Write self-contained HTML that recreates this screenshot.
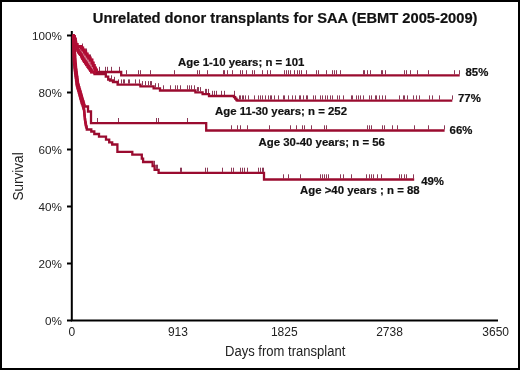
<!DOCTYPE html>
<html><head><meta charset="utf-8"><style>
html,body{margin:0;padding:0;background:#fff;}
body{width:520px;height:370px;overflow:hidden;}
svg{display:block;font-family:"Liberation Sans", sans-serif;will-change:transform;}
</style></head><body>
<svg width="520" height="370" viewBox="0 0 520 370">
<rect x="0" y="0" width="520" height="370" fill="#fff"/>
<rect x="1" y="1" width="518" height="368" fill="none" stroke="#000" stroke-width="2"/>
<text x="92.8" y="23.4" font-size="14.7" font-weight="bold" fill="#111" stroke="#111" stroke-width="0.2">Unrelated donor transplants for SAA (EBMT 2005-2009)</text>
<g fill="none" stroke="#000" stroke-width="2">
<path d="M71.8 31 V320.6 H498"/>
<text stroke="none" fill="#222" font-size="11.7" x="62" y="39.8" text-anchor="end">100%</text>
<path d="M67 35.5 H72"/>
<text stroke="none" fill="#222" font-size="11.7" x="62" y="96.8" text-anchor="end">80%</text>
<path d="M67 92.5 H72"/>
<text stroke="none" fill="#222" font-size="11.7" x="62" y="153.8" text-anchor="end">60%</text>
<path d="M67 149.5 H72"/>
<text stroke="none" fill="#222" font-size="11.7" x="62" y="210.8" text-anchor="end">40%</text>
<path d="M67 206.5 H72"/>
<text stroke="none" fill="#222" font-size="11.7" x="62" y="267.8" text-anchor="end">20%</text>
<path d="M67 263.5 H72"/>
<text stroke="none" fill="#222" font-size="11.7" x="62" y="324.8" text-anchor="end">0%</text>
<path d="M67 320.5 H72"/>

</g>
<g font-size="12" fill="#222">
<text x="71.8" y="336" text-anchor="middle">0</text>
<text x="177.9" y="336" text-anchor="middle">913</text>
<text x="284.3" y="336" text-anchor="middle">1825</text>
<text x="389.5" y="336" text-anchor="middle">2738</text>
<text x="495.7" y="336" text-anchor="middle">3650</text>

</g>
<g fill="none" stroke="#8a3856" stroke-width="1">
<path d="M82.5 43.5 v4 M86.5 48.5 v4 M90.5 54.5 v3.5 M99.5 66.8 v4.2 M105.5 66.8 v4.2 M107.5 66.8 v4.2 M111.5 66.8 v4.2 M119.5 66.8 v4.2 M126.5 70.2 v4.2 M138.5 70.2 v4.2 M140.5 70.2 v4.2 M150.5 70.2 v4.2 M174.5 70.2 v4.2 M197.5 70.2 v4.2 M199.5 70.2 v4.2 M207.5 70.2 v4.2 M223.5 70.2 v4.2 M224.5 70.2 v4.2 M227.5 70.2 v4.2 M232.5 70.2 v4.2 M240.5 70.2 v4.2 M242.5 70.2 v4.2 M246.5 70.2 v4.2 M252.5 70.2 v4.2 M254.5 70.2 v4.2 M262.5 70.2 v4.2 M267.5 70.2 v4.2 M270.5 70.2 v4.2 M284.5 70.2 v4.2 M286.5 70.2 v4.2 M288.5 70.2 v4.2 M290.5 70.2 v4.2 M294.5 70.2 v4.2 M297.5 70.2 v4.2 M299.5 70.2 v4.2 M301.5 70.2 v4.2 M306.5 70.2 v4.2 M316.5 70.2 v4.2 M318.5 70.2 v4.2 M326.5 70.2 v4.2 M332.5 70.2 v4.2 M334.5 70.2 v4.2 M336.5 70.2 v4.2 M340.5 70.2 v4.2 M363.5 70.2 v4.2 M364.5 70.2 v4.2 M367.5 70.2 v4.2 M370.5 70.2 v4.2 M381.5 70.2 v4.2 M382.5 70.2 v4.2 M385.5 70.2 v4.2 M404.5 70.2 v4.2 M406.5 70.2 v4.2 M410.5 70.2 v4.2 M417.5 70.2 v4.2 M428.5 70.2 v4.2 M454.5 70.2 v4.2 M459.5 70.2 v4.2 M111.5 75.3 v4.2 M114.5 76.8 v4.2 M118.5 79.4 v4.2 M121.5 79.4 v4.2 M123.5 79.4 v4.2 M124.5 79.4 v4.2 M128.5 79.4 v4.2 M129.5 79.4 v4.2 M135.5 79.4 v4.2 M139.5 79.4 v4.2 M142.5 81.1 v4.2 M145.5 81.1 v4.2 M148.5 81.1 v4.2 M150.5 81.1 v4.2 M151.5 81.1 v4.2 M155.5 83.2 v4.2 M158.5 83.2 v4.2 M163.5 85.3 v4.2 M170.5 85.3 v4.2 M175.5 85.3 v4.2 M177.5 85.3 v4.2 M180.5 85.3 v4.2 M187.5 85.3 v4.2 M189.5 85.3 v4.2 M191.5 85.3 v4.2 M194.5 85.3 v4.2 M197.5 87.1 v4.2 M198.5 87.1 v4.2 M200.5 87.1 v4.2 M205.5 88.9 v4.2 M206.5 88.9 v4.2 M208.5 88.9 v4.2 M212.5 90.8 v4.2 M214.5 90.8 v4.2 M216.5 90.8 v4.2 M221.5 90.8 v4.2 M224.5 90.8 v4.2 M234.5 90.8 v4.2 M239.5 95.4 v4.2 M240.5 95.4 v4.2 M242.5 95.4 v4.2 M243.5 95.4 v4.2 M245.5 95.4 v4.2 M248.5 95.4 v4.2 M254.5 95.4 v4.2 M258.5 95.4 v4.2 M260.5 95.4 v4.2 M262.5 95.4 v4.2 M265.5 95.4 v4.2 M268.5 95.4 v4.2 M270.5 95.4 v4.2 M271.5 95.4 v4.2 M274.5 95.4 v4.2 M278.5 95.4 v4.2 M283.5 95.4 v4.2 M284.5 95.4 v4.2 M288.5 95.4 v4.2 M292.5 95.4 v4.2 M295.5 95.4 v4.2 M299.5 95.4 v4.2 M300.5 95.4 v4.2 M303.5 95.4 v4.2 M306.5 95.4 v4.2 M307.5 95.4 v4.2 M313.5 95.4 v4.2 M315.5 95.4 v4.2 M320.5 95.4 v4.2 M322.5 95.4 v4.2 M325.5 95.4 v4.2 M327.5 95.4 v4.2 M330.5 95.4 v4.2 M332.5 95.4 v4.2 M337.5 95.4 v4.2 M339.5 95.4 v4.2 M343.5 95.4 v4.2 M351.5 95.4 v4.2 M352.5 95.4 v4.2 M356.5 95.4 v4.2 M358.5 95.4 v4.2 M360.5 95.4 v4.2 M363.5 95.4 v4.2 M369.5 95.4 v4.2 M371.5 95.4 v4.2 M375.5 95.4 v4.2 M376.5 95.4 v4.2 M379.5 95.4 v4.2 M382.5 95.4 v4.2 M385.5 95.4 v4.2 M399.5 95.4 v4.2 M403.5 95.4 v4.2 M404.5 95.4 v4.2 M407.5 95.4 v4.2 M413.5 95.4 v4.2 M416.5 95.4 v4.2 M419.5 95.4 v4.2 M429.5 95.4 v4.2 M432.5 95.4 v4.2 M439.5 95.4 v4.2 M452.5 95.4 v4.2 M97.5 118.0 v4.2 M118.5 118.0 v4.2 M156.5 118.0 v4.2 M158.5 118.0 v4.2 M187.5 118.0 v4.2 M231.5 125.3 v4.2 M237.5 125.3 v4.2 M240.5 125.3 v4.2 M247.5 125.3 v4.2 M269.5 125.3 v4.2 M290.5 125.3 v4.2 M296.5 125.3 v4.2 M302.5 125.3 v4.2 M304.5 125.3 v4.2 M311.5 125.3 v4.2 M324.5 125.3 v4.2 M326.5 125.3 v4.2 M367.5 125.3 v4.2 M369.5 125.3 v4.2 M371.5 125.3 v4.2 M382.5 125.3 v4.2 M384.5 125.3 v4.2 M392.5 125.3 v4.2 M397.5 125.3 v4.2 M414.5 125.3 v4.2 M428.5 125.3 v4.2 M444.5 125.3 v4.2 M154.5 160.8 v4.2 M156.5 164.7 v4.2 M157.5 164.7 v4.2 M180.5 167.7 v4.2 M181.5 167.7 v4.2 M205.5 167.7 v4.2 M207.5 167.7 v4.2 M222.5 167.7 v4.2 M231.5 167.7 v4.2 M233.5 167.7 v4.2 M240.5 167.7 v4.2 M242.5 167.7 v4.2 M244.5 167.7 v4.2 M247.5 167.7 v4.2 M258.5 167.7 v4.2 M260.5 167.7 v4.2 M262.5 167.7 v4.2 M263.5 167.7 v4.2 M283.5 174.3 v4.2 M288.5 174.3 v4.2 M300.5 174.3 v4.2 M320.5 174.3 v4.2 M322.5 174.3 v4.2 M324.5 174.3 v4.2 M326.5 174.3 v4.2 M328.5 174.3 v4.2 M340.5 174.3 v4.2 M343.5 174.3 v4.2 M351.5 174.3 v4.2 M366.5 174.3 v4.2 M369.5 174.3 v4.2 M371.5 174.3 v4.2 M373.5 174.3 v4.2 M377.5 174.3 v4.2 M381.5 174.3 v4.2 M399.5 174.3 v4.2 M401.5 174.3 v4.2 M404.5 174.3 v4.2 M406.5 174.3 v4.2 M413.5 174.3 v4.2 "/>
</g>
<g fill="none" stroke="#9a0b2f" stroke-width="2.3" stroke-linejoin="miter" stroke-linecap="butt">
<path d="M73.6 35.5 L73.6 35.5 L73.6 36.9 L73.6 36.9 L73.6 38.2 L73.6 38.2 L73.6 39.6 L73.7 39.6 L73.7 40.9 L73.7 40.9 L73.7 42.3 L73.7 42.3 L73.7 43.6 L73.7 43.6 L73.7 45.0 L73.7 45.0 L73.7 46.2 L73.7 46.2 L73.7 47.5 L73.7 47.5 L73.7 48.8 L73.8 48.8 L73.8 50.0 L73.8 50.0 L73.8 51.2 L73.8 51.2 L73.8 52.5 L73.8 52.5 L73.8 53.8 L73.8 53.8 L73.8 55.0 L73.9 55.0 L73.9 56.4 L74.0 56.4 L74.0 57.8 L74.0 57.8 L74.0 59.2 L74.1 59.2 L74.1 60.6 L74.2 60.6 L74.2 62.0 L74.3 62.0 L74.3 63.3 L74.5 63.3 L74.5 64.7 L74.6 64.7 L74.6 66.0 L74.7 66.0 L74.7 67.3 L74.9 67.3 L74.9 68.7 L75.0 68.7 L75.0 70.0 L75.2 70.0 L75.2 71.2 L75.3 71.2 L75.3 72.5 L75.5 72.5 L75.5 73.8 L75.7 73.8 L75.7 75.0 L75.8 75.0 L75.8 76.2 L76.0 76.2 L76.0 77.5 L76.2 77.5 L76.2 78.8 L76.3 78.8 L76.3 80.0 L76.5 80.0 L76.5 81.2 L76.7 81.2 L76.7 82.5 L76.8 82.5 L76.8 83.8 L77.0 83.8 L77.0 85.0 L77.3 85.0 L77.3 86.2 L77.7 86.2 L77.7 87.5 L78.0 87.5 L78.0 88.8 L78.4 88.8 L78.4 90.0 L78.8 90.0 L78.8 91.2 L79.1 91.2 L79.1 92.5 L79.5 92.5 L79.5 93.8 L79.8 93.8 L79.8 95.0 L80.1 95.0 L80.1 96.2 L80.5 96.2 L80.5 97.5 L80.8 97.5 L80.8 98.8 L81.2 98.8 L81.2 100.0 L81.5 100.0 L81.5 101.2 L81.9 101.2 L81.9 102.5 L82.2 102.5 L82.2 103.8 L82.6 103.8 L82.6 105.0 L82.9 105.0 L82.9 106.2 L83.3 106.2 L83.3 107.5 L83.7 107.5 L83.7 108.8 L84.0 108.8 L84.0 110.0 L84.1 110.0 L84.1 111.3 L84.3 111.3 L84.3 112.7 L84.4 112.7 L84.4 114.0 L84.5 114.0 L84.5 115.3 L84.7 115.3 L84.7 116.7 L84.8 116.7 L84.8 118.0 L84.9 118.0 L84.9 119.3 L85.1 119.3 L85.1 120.7 L85.2 120.7 L85.2 122.0 L85.5 122.0 L85.5 123.4 L85.8 123.4 L85.8 124.8 L86.0 124.8 L86.0 126.1 L86.3 126.1 L86.3 127.5 L86.8 127.5 L86.8 129.5 L91.3 129.5 L91.3 131.5 L94.3 131.5 L94.3 134.0 L99.0 134.0 L99.0 136.7 L106.0 136.7 L106.0 139.6 L109.2 139.6 L109.2 142.4 L112.2 142.4 L112.2 144.5 L117.4 144.5 L117.4 151.9 L132.3 151.9 L132.3 154.6 L141.8 154.6 L141.8 158.6 L143.1 158.6 L143.1 162.0 L152.6 162.0 L152.6 166.0 L154.6 166.0 L154.6 169.9 L158.6 169.9 L158.6 172.9 L264.0 172.9 L264.0 179.5 L414.2 179.5"/>
<path d="M74.5 35.5 L74.5 35.5 L74.5 36.9 L74.5 36.9 L74.5 38.2 L74.5 38.2 L74.5 39.6 L74.6 39.6 L74.6 40.9 L74.6 40.9 L74.6 42.3 L74.6 42.3 L74.6 43.6 L74.6 43.6 L74.6 45.0 L74.6 45.0 L74.6 46.2 L74.6 46.2 L74.6 47.5 L74.7 47.5 L74.7 48.8 L74.7 48.8 L74.7 50.0 L74.7 50.0 L74.7 51.2 L74.8 51.2 L74.8 52.5 L74.8 52.5 L74.8 53.8 L74.8 53.8 L74.8 55.0 L74.9 55.0 L74.9 56.4 L75.0 56.4 L75.0 57.8 L75.0 57.8 L75.0 59.2 L75.1 59.2 L75.1 60.6 L75.2 60.6 L75.2 62.0 L75.3 62.0 L75.3 63.3 L75.4 63.3 L75.4 64.7 L75.6 64.7 L75.6 66.0 L75.7 66.0 L75.7 67.3 L75.8 67.3 L75.8 68.7 L75.9 68.7 L75.9 70.0 L76.1 70.0 L76.1 71.2 L76.2 71.2 L76.2 72.5 L76.4 72.5 L76.4 73.8 L76.6 73.8 L76.6 75.0 L76.7 75.0 L76.7 76.2 L76.9 76.2 L76.9 77.5 L77.1 77.5 L77.1 78.8 L77.2 78.8 L77.2 80.0 L77.4 80.0 L77.4 81.2 L77.6 81.2 L77.6 82.5 L77.7 82.5 L77.7 83.8 L77.9 83.8 L77.9 85.0 L78.3 85.0 L78.3 86.2 L78.6 86.2 L78.6 87.5 L79.0 87.5 L79.0 88.8 L79.3 88.8 L79.3 90.0 L79.7 90.0 L79.7 91.2 L80.1 91.2 L80.1 92.5 L80.4 92.5 L80.4 93.8 L80.8 93.8 L80.8 95.0 L81.2 95.0 L81.2 96.3 L81.6 96.3 L81.6 97.6 L81.9 97.6 L81.9 98.8 L82.3 98.8 L82.3 100.1 L82.7 100.1 L82.7 101.4 L83.1 101.4 L83.1 102.7 L83.4 102.7 L83.4 103.9 L83.8 103.9 L83.8 105.2 L84.2 105.2 L84.2 106.5 L88.0 106.5 L88.0 111.5 L91.0 111.5 L91.0 123.2 L206.2 123.2 L206.2 130.5 L444.6 130.5"/>
<path d="M72.8 36.0 L73.2 36.0 L73.2 37.3 L73.6 37.3 L73.6 38.7 L74.0 38.7 L74.0 40.0 L74.4 40.0 L74.4 41.2 L74.8 41.2 L74.8 42.5 L75.1 42.5 L75.1 43.8 L75.5 43.8 L75.5 45.0 L76.1 45.0 L76.1 46.3 L76.6 46.3 L76.6 47.7 L77.2 47.7 L77.2 49.0 L77.8 49.0 L77.8 50.5 L78.4 50.5 L78.4 52.0 L79.4 52.0 L79.4 53.3 L80.3 53.3 L80.3 54.7 L81.3 54.7 L81.3 56.0 L82.0 56.0 L82.0 57.3 L82.6 57.3 L82.6 58.7 L83.3 58.7 L83.3 60.0 L84.3 60.0 L84.3 61.5 L85.3 61.5 L85.3 63.0 L86.5 63.0 L86.5 64.8 L87.8 64.8 L87.8 66.5 L88.7 66.5 L88.7 67.9 L89.7 67.9 L89.7 69.2 L90.6 69.2 L90.6 70.6 L91.5 70.6 L91.5 72.0 L94.5 72.0 L94.5 74.0 L105.8 74.0 L105.8 76.6 L108.2 76.6 L108.2 79.5 L110.0 79.5 L110.0 80.5 L113.0 80.5 L113.0 82.0 L117.6 82.0 L117.6 84.6 L140.4 84.6 L140.4 86.3 L153.6 86.3 L153.6 88.4 L160.0 88.4 L160.0 90.5 L195.4 90.5 L195.4 92.3 L202.6 92.3 L202.6 94.1 L209.0 94.1 L209.0 96.0 L234.0 96.0 L234.0 97.2 L235.2 97.2 L235.2 98.6 L236.4 98.6 L236.4 100.0 L237.4 100.0 L237.4 100.6 L452.3 100.6"/>
<path d="M72.8 35.5 L73.4 35.5 L73.4 36.5 L74.4 36.5 L74.4 39.0 L75.3 39.0 L75.3 42.0 L75.8 42.0 L75.8 44.5 L77.2 44.5 L77.2 46.5 L81.2 46.5 L81.2 48.0 L82.8 48.0 L82.8 50.0 L84.4 50.0 L84.4 52.0 L85.8 52.0 L85.8 54.0 L87.2 54.0 L87.2 56.0 L88.7 56.0 L88.7 58.0 L90.2 58.0 L90.2 60.0 L92.0 60.0 L92.0 63.0 L93.2 63.0 L93.2 65.5 L94.3 65.5 L94.3 68.0 L95.4 68.0 L95.4 70.0 L96.5 70.0 L96.5 72.0 L121.2 72.0 L121.2 75.4 L459.7 75.4"/>

</g>
<g fill="none" stroke="#b00c34" stroke-width="2.8">
<path d="M72.8 35.5 L73.4 35.5 L73.4 36.5 L74.4 36.5 L74.4 39.0 L75.3 39.0 L75.3 42.0 L75.8 42.0 L75.8 44.5 L77.2 44.5 L77.2 46.5 L81.2 46.5 L81.2 48.0 L82.8 48.0 L82.8 50.0 L84.4 50.0 L84.4 52.0 L85.8 52.0 L85.8 54.0 L87.2 54.0 L87.2 56.0 L88.7 56.0 L88.7 58.0 L90.2 58.0 L90.2 60.0 L92.0 60.0 L92.0 63.0 L93.2 63.0 L93.2 65.5 L94.3 65.5 L94.3 68.0 L95.4 68.0 L95.4 70.0 L96.5 70.0 L96.5 72.0"/>
<path d="M72.8 36.0 L73.2 36.0 L73.2 37.3 L73.6 37.3 L73.6 38.7 L74.0 38.7 L74.0 40.0 L74.4 40.0 L74.4 41.2 L74.8 41.2 L74.8 42.5 L75.1 42.5 L75.1 43.8 L75.5 43.8 L75.5 45.0 L76.1 45.0 L76.1 46.3 L76.6 46.3 L76.6 47.7 L77.2 47.7 L77.2 49.0 L77.8 49.0 L77.8 50.5 L78.4 50.5 L78.4 52.0 L79.4 52.0 L79.4 53.3 L80.3 53.3 L80.3 54.7 L81.3 54.7 L81.3 56.0 L82.0 56.0 L82.0 57.3 L82.6 57.3 L82.6 58.7 L83.3 58.7 L83.3 60.0 L84.3 60.0 L84.3 61.5 L85.3 61.5 L85.3 63.0 L86.5 63.0 L86.5 64.8 L87.8 64.8 L87.8 66.5 L88.7 66.5 L88.7 67.9 L89.7 67.9 L89.7 69.2 L90.6 69.2 L90.6 70.6 L91.5 70.6 L91.5 72.0 L94.5 72.0 L94.5 74.0"/>
<path d="M74.5 35.5 L74.5 35.5 L74.5 36.9 L74.5 36.9 L74.5 38.2 L74.5 38.2 L74.5 39.6 L74.6 39.6 L74.6 40.9 L74.6 40.9 L74.6 42.3 L74.6 42.3 L74.6 43.6 L74.6 43.6 L74.6 45.0 L74.6 45.0 L74.6 46.2 L74.6 46.2 L74.6 47.5 L74.7 47.5 L74.7 48.8 L74.7 48.8 L74.7 50.0 L74.7 50.0 L74.7 51.2 L74.8 51.2 L74.8 52.5 L74.8 52.5 L74.8 53.8 L74.8 53.8 L74.8 55.0 L74.9 55.0 L74.9 56.4 L75.0 56.4 L75.0 57.8 L75.0 57.8 L75.0 59.2 L75.1 59.2 L75.1 60.6 L75.2 60.6 L75.2 62.0 L75.3 62.0 L75.3 63.3 L75.4 63.3 L75.4 64.7 L75.6 64.7 L75.6 66.0 L75.7 66.0 L75.7 67.3 L75.8 67.3 L75.8 68.7 L75.9 68.7 L75.9 70.0 L76.1 70.0 L76.1 71.2 L76.2 71.2 L76.2 72.5 L76.4 72.5 L76.4 73.8 L76.6 73.8 L76.6 75.0 L76.7 75.0 L76.7 76.2 L76.9 76.2 L76.9 77.5 L77.1 77.5 L77.1 78.8 L77.2 78.8 L77.2 80.0 L77.4 80.0 L77.4 81.2 L77.6 81.2 L77.6 82.5 L77.7 82.5 L77.7 83.8 L77.9 83.8 L77.9 85.0 L78.3 85.0 L78.3 86.2 L78.6 86.2 L78.6 87.5 L79.0 87.5 L79.0 88.8 L79.3 88.8 L79.3 90.0 L79.7 90.0 L79.7 91.2 L80.1 91.2 L80.1 92.5 L80.4 92.5 L80.4 93.8 L80.8 93.8 L80.8 95.0 L81.2 95.0 L81.2 96.3 L81.6 96.3 L81.6 97.6 L81.9 97.6 L81.9 98.8 L82.3 98.8 L82.3 100.1 L82.7 100.1 L82.7 101.4 L83.1 101.4 L83.1 102.7 L83.4 102.7 L83.4 103.9 L83.8 103.9 L83.8 105.2 L84.2 105.2 L84.2 106.5"/>
<path d="M73.6 35.5 L73.6 35.5 L73.6 36.9 L73.6 36.9 L73.6 38.2 L73.6 38.2 L73.6 39.6 L73.7 39.6 L73.7 40.9 L73.7 40.9 L73.7 42.3 L73.7 42.3 L73.7 43.6 L73.7 43.6 L73.7 45.0 L73.7 45.0 L73.7 46.2 L73.7 46.2 L73.7 47.5 L73.7 47.5 L73.7 48.8 L73.8 48.8 L73.8 50.0 L73.8 50.0 L73.8 51.2 L73.8 51.2 L73.8 52.5 L73.8 52.5 L73.8 53.8 L73.8 53.8 L73.8 55.0 L73.9 55.0 L73.9 56.4 L74.0 56.4 L74.0 57.8 L74.0 57.8 L74.0 59.2 L74.1 59.2 L74.1 60.6 L74.2 60.6 L74.2 62.0 L74.3 62.0 L74.3 63.3 L74.5 63.3 L74.5 64.7 L74.6 64.7 L74.6 66.0 L74.7 66.0 L74.7 67.3 L74.9 67.3 L74.9 68.7 L75.0 68.7 L75.0 70.0 L75.2 70.0 L75.2 71.2 L75.3 71.2 L75.3 72.5 L75.5 72.5 L75.5 73.8 L75.7 73.8 L75.7 75.0 L75.8 75.0 L75.8 76.2 L76.0 76.2 L76.0 77.5 L76.2 77.5 L76.2 78.8 L76.3 78.8 L76.3 80.0 L76.5 80.0 L76.5 81.2 L76.7 81.2 L76.7 82.5 L76.8 82.5 L76.8 83.8 L77.0 83.8 L77.0 85.0 L77.3 85.0 L77.3 86.2 L77.7 86.2 L77.7 87.5 L78.0 87.5 L78.0 88.8 L78.4 88.8 L78.4 90.0 L78.8 90.0 L78.8 91.2 L79.1 91.2 L79.1 92.5 L79.5 92.5 L79.5 93.8 L79.8 93.8 L79.8 95.0 L80.1 95.0 L80.1 96.2 L80.5 96.2 L80.5 97.5 L80.8 97.5 L80.8 98.8 L81.2 98.8 L81.2 100.0 L81.5 100.0 L81.5 101.2 L81.9 101.2 L81.9 102.5 L82.2 102.5 L82.2 103.8 L82.6 103.8 L82.6 105.0"/>
<path stroke-width="2.2" d="M82.6 105.0 L82.9 105.0 L82.9 106.2 L83.3 106.2 L83.3 107.5 L83.7 107.5 L83.7 108.8 L84.0 108.8 L84.0 110.0 L84.1 110.0 L84.1 111.3 L84.3 111.3 L84.3 112.7 L84.4 112.7 L84.4 114.0 L84.5 114.0 L84.5 115.3 L84.7 115.3 L84.7 116.7 L84.8 116.7 L84.8 118.0 L84.9 118.0 L84.9 119.3 L85.1 119.3 L85.1 120.7 L85.2 120.7 L85.2 122.0 L85.5 122.0 L85.5 123.4 L85.8 123.4 L85.8 124.8 L86.0 124.8 L86.0 126.1 L86.3 126.1 L86.3 127.5"/>
</g>
<path d="M72.4 34.3 L74.0 34.3 L75.0 36 L76.3 38 L77.2 42 L77.6 44 L72.4 47 Z" fill="#b00c34"/>
<path d="M79 48 L82.5 48.5 L84.4 52 L87.2 56 L90.2 60 L92 63 L94.3 68 L96 71 L92 72 L87.8 66.5 L85.3 63 L83.3 60 L81.3 56 L78.4 52 Z" fill="#b00c34" opacity="0.55"/>
<g font-size="11.4" font-weight="bold" fill="#111" stroke="#111" stroke-width="0.2">
<g font-size="11.4">
<text x="178" y="66">Age 1-10 years; n = 101</text>
<text x="215" y="115.3">Age 11-30 years; n = 252</text>
<text x="258.6" y="146.2">Age 30-40 years; n = 56</text>
<text x="300" y="193.6">Age &gt;40 years ; n = 88</text>
</g>
<text x="465.5" y="76">85%</text>
<text x="458" y="102">77%</text>
<text x="449.6" y="134">66%</text>
<text x="421.2" y="184.5">49%</text>
</g>
<text x="225" y="355.7" font-size="14.5" fill="#222" transform="translate(225 0) scale(0.9 1) translate(-225 0)">Days from transplant</text>
<text x="0" y="0" font-size="14" fill="#222" transform="translate(23.4 200.4) rotate(-90) scale(0.965 1)">Survival</text>
</svg>
</body></html>
